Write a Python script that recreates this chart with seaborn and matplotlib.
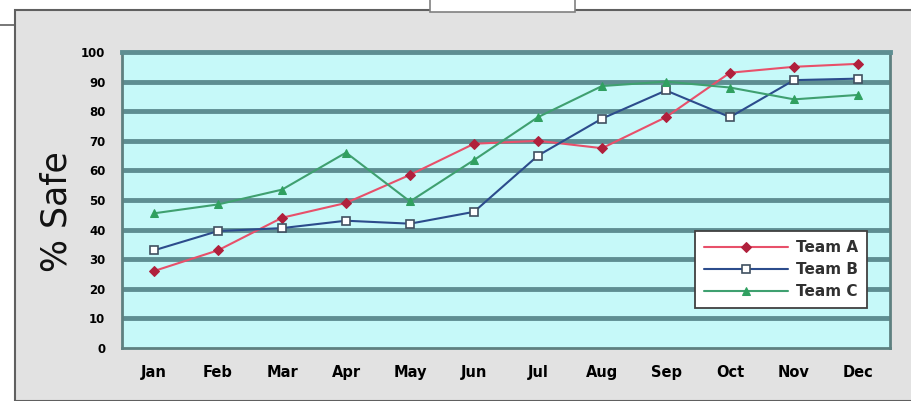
import matplotlib
matplotlib.use("Agg")
import matplotlib.pyplot as plt
from matplotlib.patches import Rectangle
import seaborn as sns
import pandas as pd

# data
months = ["Jan", "Feb", "Mar", "Apr", "May", "Jun",
          "Jul", "Aug", "Sep", "Oct", "Nov", "Dec"]
team_a = [26, 33, 44, 49, 58.5, 69, 70, 67.5, 78, 93, 95, 96]
team_b = [33, 39.5, 40.5, 43, 42, 46, 65, 77.5, 87, 78, 90.5, 91]
team_c = [45.5, 48.5, 53.5, 66, 49.5, 63.5, 78, 88.5, 90, 88, 84, 85.5]
y_ticks = list(range(0, 101, 10))

sns.set_style("white")
plt.rcParams['font.family'] = ['DejaVu Sans']

fig = plt.figure(figsize=(9.11, 4.01), dpi=100)
fig.patch.set_facecolor("white")

# grey chart frame and the clipped bits at the top
fig.patches.append(Rectangle((15 / 911, 0), 1, 1 - 10 / 401, transform=fig.transFigure,
                             facecolor="#e2e2e2", edgecolor="#606060", lw=1.5, zorder=-5))
fig.patches.append(Rectangle((430 / 911, 1 - 12 / 401), 145 / 911, 0.05, transform=fig.transFigure,
                             facecolor="white", edgecolor="#808080", lw=1.2, zorder=-4))
fig.lines.append(plt.Line2D([0, 15 / 911], [1 - 25 / 401] * 2, transform=fig.transFigure,
                            color="#606060", lw=1.2, zorder=-4))

ax = fig.add_axes([122 / 911, 53 / 401, 768 / 911, 296 / 401])
ax.set_facecolor("#c6f9f9")

teams = {"Team A": team_a, "Team B": team_b, "Team C": team_c}
styles = {
    "Team A": dict(color="#e8506a", marker="D", markersize=5, markerfacecolor="#b0203c",
                   markeredgecolor="#b0203c"),
    "Team B": dict(color="#2c4c8c", marker="s", markersize=6, markerfacecolor="white",
                   markeredgecolor="#405060", markeredgewidth=1.2),
    "Team C": dict(color="#3fa070", marker="^", markersize=5.5, markerfacecolor="#30a060",
                   markeredgecolor="#30a060"),
}
for name, vals in teams.items():
    df = pd.DataFrame({"month": months, "value": vals})
    sns.lineplot(data=df, x="month", y="value", sort=False, ax=ax, label=name,
                 linewidth=1.5, zorder=3, **styles[name])

ax.set_xlim(-0.5, len(months) - 0.5)
ax.set_ylim(0, 100)
ax.set_yticks(y_ticks)
ax.set_yticklabels([str(t) for t in y_ticks], fontsize=8.5, fontweight="bold", color="black")
ax.set_xticks(range(len(months)))
ax.set_xticklabels(months, fontsize=10.5, fontweight="bold", color="black")
ax.tick_params(axis="x", length=0, pad=12)
ax.tick_params(axis="y", length=0, pad=12)
ax.set_xlabel("")
ax.set_ylabel("% Safe", fontsize=25, labelpad=0, color="#111111")
ax.yaxis.set_label_coords(-0.063, 0.46)

for t in y_ticks[1:-1]:
    ax.axhline(t, color="#5e8e92", lw=3.5, zorder=1)
for side in ["left", "bottom", "right"]:
    ax.spines[side].set_color("#5e8080")
    ax.spines[side].set_linewidth(2)
ax.spines["top"].set_color("#5e8e92")
ax.spines["top"].set_linewidth(3.5)

leg = ax.legend(loc="lower right", bbox_to_anchor=(0.97, 0.135), fontsize=11, frameon=True,
                fancybox=False, handlelength=5.5, borderpad=0.6, labelspacing=0.45,
                borderaxespad=0, handletextpad=0.5)
leg.get_frame().set_edgecolor("#404040")
leg.get_frame().set_linewidth(1.3)
leg.get_frame().set_alpha(1)
for txt in leg.get_texts():
    txt.set_fontweight("bold")
    txt.set_color("#303030")

fig.savefig("out.png", dpi=100)
